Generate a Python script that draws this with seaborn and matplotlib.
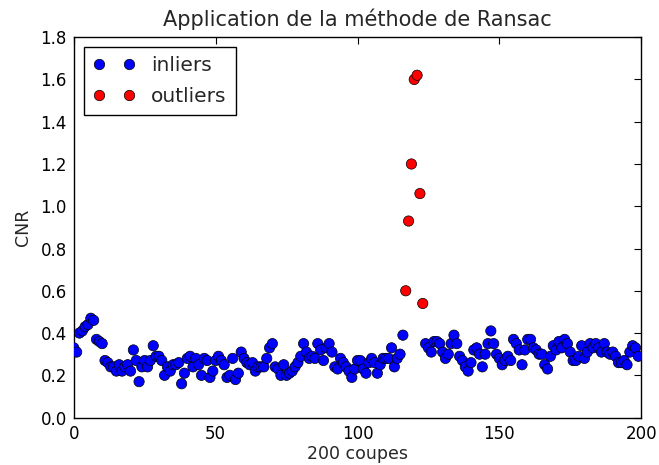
import numpy as np
import pandas as pd
import matplotlib
matplotlib.use("Agg")
import matplotlib.pyplot as plt
import seaborn as sns

# CNR par coupe
cnr_0_50 = [0.33, 0.31, 0.40, 0.41, 0.43, 0.44, 0.47, 0.46, 0.37, 0.36, 0.35,
            0.27, 0.26, 0.24, 0.24, 0.22, 0.25, 0.22, 0.24, 0.25, 0.22,
            0.32, 0.27, 0.17, 0.24, 0.27, 0.24, 0.27, 0.34, 0.29, 0.29,
            0.27, 0.20, 0.24, 0.22, 0.25, 0.25, 0.26, 0.16, 0.21, 0.28,
            0.29, 0.24, 0.28, 0.25, 0.20, 0.28, 0.27, 0.19, 0.22, 0.27]
cnr_51_116 = [0.29, 0.27, 0.25, 0.19, 0.20, 0.28, 0.18, 0.21, 0.31, 0.28,
              0.26, 0.25, 0.26, 0.22, 0.24, 0.24, 0.24, 0.28, 0.33, 0.35,
              0.24, 0.23, 0.20, 0.25, 0.20, 0.21, 0.22, 0.24, 0.26, 0.29,
              0.35, 0.31, 0.28, 0.29, 0.28, 0.35, 0.32, 0.27, 0.33, 0.35,
              0.31, 0.24, 0.23, 0.28, 0.26, 0.24,
              0.22, 0.19, 0.23, 0.27, 0.27, 0.23, 0.21, 0.26, 0.28, 0.26,
              0.21, 0.25, 0.28, 0.28, 0.28, 0.33, 0.24, 0.28, 0.30, 0.39]
cnr_117_123 = [0.60, 0.93, 1.20, 1.60, 1.62, 1.06, 0.54]
cnr_124_199 = [0.35, 0.33, 0.31, 0.36, 0.36, 0.35, 0.31, 0.28, 0.30, 0.35,
               0.39, 0.35, 0.29, 0.27, 0.24, 0.22, 0.26, 0.32, 0.33, 0.30,
               0.24, 0.30, 0.35, 0.41, 0.35, 0.30, 0.28, 0.25, 0.27, 0.29,
               0.27, 0.37, 0.35, 0.32, 0.25,
               0.32, 0.37, 0.37, 0.33, 0.32, 0.30, 0.30, 0.25, 0.23, 0.29,
               0.34, 0.32, 0.36, 0.33, 0.37, 0.35, 0.31, 0.27, 0.27, 0.29,
               0.34, 0.28, 0.31, 0.35, 0.33, 0.35, 0.33, 0.31, 0.35, 0.31,
               0.30, 0.31, 0.29, 0.26, 0.26, 0.27, 0.25, 0.31, 0.34, 0.33, 0.29]
outlier_idx = list(range(117, 124))

cnr = cnr_0_50 + cnr_51_116 + cnr_117_123 + cnr_124_199
coupes = np.arange(len(cnr))
statut = np.where(np.isin(coupes, outlier_idx), "outliers", "inliers")
df = pd.DataFrame({"coupe": coupes, "CNR": cnr, "statut": statut})

sns.set_style("white")
plt.rcParams["font.family"] = ["DejaVu Sans"]

fig = plt.figure(figsize=(6.59, 4.65), dpi=100)
ax = fig.add_axes([0.112, 0.102, 0.861, 0.818])

sns.scatterplot(data=df, x="coupe", y="CNR", hue="statut",
                hue_order=["inliers", "outliers"],
                palette={"inliers": "#0000ff", "outliers": "#ff0000"},
                s=55, edgecolor="black", linewidth=0.5, ax=ax, zorder=3)

leg = ax.get_legend()
handles = leg.legend_handles
labels = [t.get_text() for t in leg.texts]
leg.remove()
for h in handles:
    h.set_markersize(7.5)
    h.set_markeredgecolor("black")
    h.set_markeredgewidth(0.5)
lg = ax.legend(handles, labels, loc="upper left", numpoints=2, fontsize=14.5,
               frameon=True, fancybox=False, framealpha=1, edgecolor="black",
               borderpad=0.45, handlelength=2.1, handletextpad=0.8,
               labelspacing=0.6, borderaxespad=0.5)
lg.get_frame().set_linewidth(1.0)

ax.set_xlim(0, 200)
ax.set_ylim(0, 1.8)
ax.set_xticks([0, 50, 100, 150, 200])
ax.set_yticks(np.arange(0, 1.81, 0.2))
ax.set_yticklabels([f"{v:.1f}" for v in np.arange(0, 1.81, 0.2)])
ax.tick_params(direction="in", length=5, width=0.8, top=True, right=True,
               labelsize=12, colors="black", pad=5)
for sp in ax.spines.values():
    sp.set_visible(True)
    sp.set_color("black")
    sp.set_linewidth(1.0)

ax.set_title("Application de la méthode de Ransac", fontsize=15, pad=8)
ax.set_xlabel("200 coupes", fontsize=12.5, labelpad=2)
ax.set_ylabel("CNR", fontsize=12.5, labelpad=6)

fig.savefig("out.png", dpi=100)
